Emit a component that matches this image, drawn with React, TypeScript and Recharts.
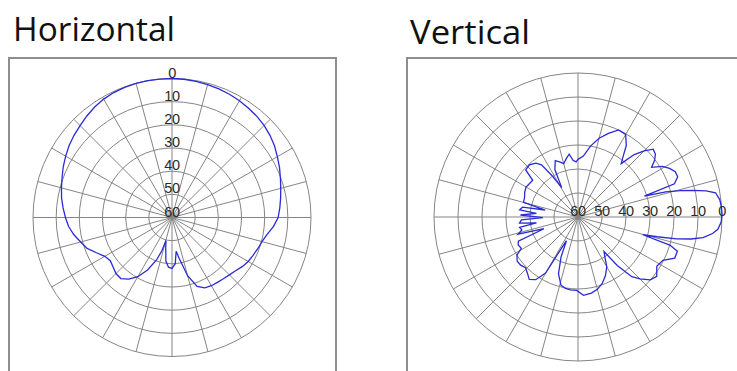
import React from "react";
import { RadarChart, Radar, PolarGrid, PolarAngleAxis, PolarRadiusAxis } from "recharts";

// Titles
const titles = ["Horizontal", "Vertical"];

// Radial tick labels (attenuation in dB, 0 at the outer ring)
const radiusTicks = [0, 10, 20, 30, 40, 50, 60];
// Spokes every 15 degrees
const spokeAngles = [0, 15, 30, 45, 60, 75, 90, 105, 120, 135, 150, 165, 180, 195, 210, 225, 240, 255, 270, 285, 300, 315, 330, 345];

// Horizontal pattern: azimuth (deg, clockwise from top) and attenuation (dB)
const horizontalAngles = [
  0, 5, 10, 15, 20, 25, 30, 35, 40, 45, 50, 55, 60, 65, 70, 75, 80, 85, 90, 95, 100, 105, 110, 115, 120,
  125, 130, 135, 140, 145, 150, 155, 160, 165, 170, 173, 176, 180, 184, 188, 192, 194.5, 197, 200, 205,
  210, 215, 220, 225, 230, 235, 240, 245, 250, 255, 260, 265, 270, 275, 280, 285, 290, 295, 300, 305,
  310, 315, 320, 325, 330, 335, 340, 345, 350, 355,
];
const horizontalDb = [
  0, 0.1, 0.3, 0.6, 0.9, 1.3, 1.8, 2.4, 3.0, 3.8, 4.8, 6.0, 7.5, 8.8, 10.2, 11.4, 12.4, 13.3, 14.2, 16, 18.3, 19.8, 20.6, 21.4, 22,
  23, 24.2, 25, 25.5, 25.8, 26, 26.5, 28.3, 34, 42, 45.3, 40, 38, 38.5, 41, 47, 49.7, 45, 40.5, 35,
  30.5, 27.5, 25.6, 25.8, 26.8, 27.5, 26.5, 24, 21, 19.2, 17, 15.2, 14, 12.8, 11.6, 10.6, 9.5, 8.2, 7, 5.8,
  4.8, 3.9, 2.8, 1.8, 1.0, 0.5, 0.2, 0.1, 0, 0,
];

// Vertical pattern: elevation (deg, clockwise from top) and attenuation (dB)
const verticalAngles = [
  0, 5, 10, 15, 20, 25, 30, 34, 37, 39, 42, 45, 48, 51, 53.5, 56, 59, 62, 65, 68, 71, 72.6, 74, 75.5, 77,
  78.5, 80, 83, 86, 89, 92, 95, 97, 99.4, 101, 102.5, 104, 105.3, 107, 109, 113, 117, 122, 127, 131, 135,
  138, 141, 143, 146, 150, 155, 160, 165, 170, 176, 181, 186, 190, 194, 199, 203, 206, 208, 210, 214, 218,
  222, 226, 230, 234, 238, 241, 245, 248, 251, 254, 257, 260, 262, 264, 267, 269, 272, 275, 277, 280, 282,
  285, 290, 295, 300, 305, 309, 312, 317, 322, 325, 328, 331, 334, 338, 342, 345, 349, 352, 355, 358,
];
const verticalDb = [
  36, 34.5, 30, 26, 22.9, 20, 20.3, 24, 29, 31.4, 25, 21, 17.8, 18.5, 20.3, 23, 19, 16.8, 15.3, 15.2, 17.5, 31, 22, 16, 10.8,
  5.5, 1.8, 0.5, 0.1, 0, 0.3, 1.5, 3.5, 7.2, 12, 18, 26, 32, 20, 16.2, 16.2, 20.3, 21.3, 18.9, 20.1, 23.5,
  26.5, 34, 42, 40, 36, 33, 30.5, 28.8, 27.8, 27.3, 29.4, 29.5, 29.8, 30.7, 35, 42, 49, 45, 33, 28.5, 27,
  28.5, 29.6, 28.8, 28.7, 30, 33, 32.5, 33.2, 45, 34, 36, 35.3, 42.5, 35.5, 36.4, 45.4, 36, 42.6, 35.5, 36.5, 46,
  36.5, 36.3, 35.5, 35, 35.5, 35.7, 30.7, 30.3, 31.5, 33.5, 40, 46, 38, 34.7, 36, 37, 35, 33.6, 36.3, 37,
];

const horizontalData = horizontalAngles.map((a, i) => ({ angle: a, db: horizontalDb[i] }));
const verticalData = verticalAngles.map((a, i) => ({ angle: a, db: verticalDb[i] }));

const GRID = "#858585";
const LINE = "#2a2ad6";

const makeTick = (props: any) => {
  const { x, y, payload } = props;
  return (
    <text
      x={x}
      y={y}
      dy={-1}
      textAnchor="middle"
      fontFamily="'Liberation Sans', Arial, sans-serif"
      fontSize={14.5}
      fill="#2a2a2a"
      letterSpacing={-0.4}
    >
      {payload.value}
    </text>
  );
};

type PolarProps = {
  data: { angle: number; db: number }[];
  width: number;
  height: number;
  cx: number;
  cy: number;
  r: number;
  labelAngle: number;
};

const Polar = ({ data, width, height, cx, cy, r, labelAngle }: PolarProps) => (
  <RadarChart
    width={width}
    height={height}
    data={data}
    cx={cx}
    cy={cy}
    outerRadius={r}
    innerRadius={0}
    margin={{ top: 0, right: 0, bottom: 0, left: 0 }}
  >
    <PolarGrid gridType="circle" stroke={GRID} strokeWidth={1} strokeOpacity={1} polarAngles={spokeAngles} />
    <PolarAngleAxis
      dataKey="angle"
      type="number"
      domain={[0, 360]}
      ticks={spokeAngles}
      tick={false}
      tickLine={false}
      axisLine={false}
    />
    <PolarRadiusAxis
      type="number"
      domain={[0, 60]}
      ticks={radiusTicks}
      reversed
      angle={labelAngle}
      axisLine={false}
      tickLine={false}
      tick={makeTick}
    />
    <Radar
      dataKey="db"
      stroke={LINE}
      strokeWidth={1.3}
      fill="none"
      fillOpacity={0}
      dot={false}
      isAnimationActive={false}
    />
  </RadarChart>
);

export default function App() {
  return (
    <div
      style={{
        position: "fixed",
        left: 0,
        top: 0,
        width: 737,
        height: 371,
        overflow: "hidden",
        background: "#fff",
      }}
    >
      <svg width={737} height={60} style={{ position: "absolute", left: 0, top: 0 }}>
        <text
          x={13}
          y={41}
          fontFamily="'Open Sans', sans-serif"
          fontSize={33}
          fill="#111"
          textLength={162}
          lengthAdjust="spacingAndGlyphs"
        >
          {titles[0]}
        </text>
        <text
          x={410}
          y={43.5}
          fontFamily="'Open Sans', sans-serif"
          fontSize={33}
          fill="#111"
          textLength={120}
          lengthAdjust="spacingAndGlyphs"
        >
          {titles[1]}
        </text>
      </svg>
      <div
        style={{
          position: "absolute",
          left: 8,
          top: 57,
          width: 329,
          height: 340,
          border: "2px solid #8e8e8e",
          boxSizing: "border-box",
        }}
      />
      <div
        style={{
          position: "absolute",
          left: 406,
          top: 57,
          width: 360,
          height: 340,
          border: "2px solid #8e8e8e",
          boxSizing: "border-box",
        }}
      />
      <div style={{ position: "absolute", left: 0, top: 0 }}>
        <Polar data={horizontalData} width={360} height={371} cx={172} cy={217.5} r={139} labelAngle={90} />
      </div>
      <div style={{ position: "absolute", left: 370, top: 0 }}>
        <Polar data={verticalData} width={367} height={371} cx={208} cy={217} r={144} labelAngle={0} />
      </div>
    </div>
  );
}
